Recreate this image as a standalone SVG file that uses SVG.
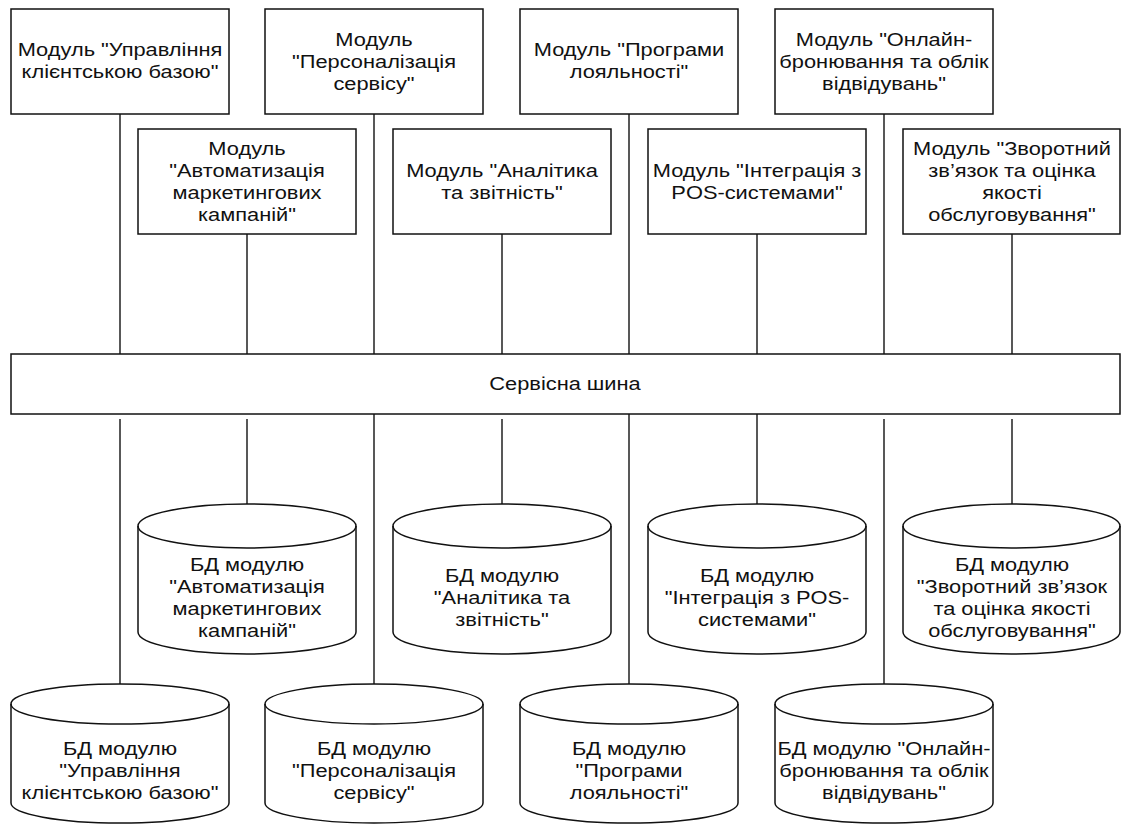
<svg xmlns="http://www.w3.org/2000/svg" width="1122" height="824" viewBox="0 0 1122 824">
<style>
.box{fill:#fff;stroke:#111;stroke-width:1.5}
.cyl{fill:#fff;stroke:#111;stroke-width:1.5}
.arc{fill:none;stroke:#111;stroke-width:1.5}
.ln{stroke:#222;stroke-width:1.5;fill:none}
text{font-family:"Liberation Sans",Arial,sans-serif;font-size:18.5px;fill:#111;text-anchor:middle}
</style>
<rect width="1122" height="824" fill="#fff"/>
<g id="connectors">
<path class="ln" d="M120,114V354M374,114V354M629,114V354M884,114V354M247,234V354M502,234V354M757,234V354M1012,234V354"/>
<path class="ln" d="M120,419V684M374,414V684M629,414V684M884,419V684M247,419V504M502,419V504M757,414V504M1012,419V504"/>
</g>
<g id="m1"><rect class="box" x="11" y="9" width="218" height="105"/><text transform="translate(120 56) scale(1.18 1)">Модуль "Управління</text><text transform="translate(120 78) scale(1.18 1)">клієнтською базою"</text></g>
<g id="m2"><rect class="box" x="265" y="9" width="218" height="105"/><text transform="translate(374 46) scale(1.18 1)">Модуль</text><text transform="translate(374 68) scale(1.18 1)">"Персоналізація</text><text transform="translate(374 90) scale(1.18 1)">сервісу"</text></g>
<g id="m3"><rect class="box" x="520" y="9" width="218" height="105"/><text transform="translate(629 56) scale(1.18 1)">Модуль "Програми</text><text transform="translate(629 78) scale(1.18 1)">лояльності"</text></g>
<g id="m4"><rect class="box" x="775" y="9" width="218" height="105"/><text transform="translate(884 46) scale(1.18 1)">Модуль "Онлайн-</text><text transform="translate(884 68) scale(1.18 1)">бронювання та облік</text><text transform="translate(884 90) scale(1.18 1)">відвідувань"</text></g>
<g id="m5"><rect class="box" x="138" y="129" width="218" height="105"/><text transform="translate(247 155) scale(1.18 1)">Модуль</text><text transform="translate(247 177) scale(1.18 1)">"Автоматизація</text><text transform="translate(247 199) scale(1.18 1)">маркетингових</text><text transform="translate(247 221) scale(1.18 1)">кампаній"</text></g>
<g id="m6"><rect class="box" x="393" y="129" width="218" height="105"/><text transform="translate(502 177) scale(1.18 1)">Модуль "Аналітика</text><text transform="translate(502 199) scale(1.18 1)">та звітність"</text></g>
<g id="m7"><rect class="box" x="648" y="129" width="218" height="105"/><text transform="translate(757 177) scale(1.18 1)">Модуль "Інтеграція з</text><text transform="translate(757 199) scale(1.18 1)">POS-системами"</text></g>
<g id="m8"><rect class="box" x="903" y="129" width="217" height="105"/><text transform="translate(1012 155) scale(1.18 1)">Модуль "Зворотний</text><text transform="translate(1012 177) scale(1.18 1)">зв’язок та оцінка</text><text transform="translate(1012 199) scale(1.18 1)">якості</text><text transform="translate(1012 221) scale(1.18 1)">обслуговування"</text></g>
<g id="bus"><rect class="box" x="11" y="354" width="1109" height="60"/><text transform="translate(565 390) scale(1.18 1)">Сервісна шина</text></g>
<g id="db5"><path class="cyl" d="M138,526A109 22 0 0 1 356,526L356,632A109 22 0 0 1 138,632Z"/><path class="arc" d="M138,526A109 22 0 0 0 356,526"/><text transform="translate(247 571) scale(1.18 1)">БД модулю</text><text transform="translate(247 593) scale(1.18 1)">"Автоматизація</text><text transform="translate(247 615) scale(1.18 1)">маркетингових</text><text transform="translate(247 637) scale(1.18 1)">кампаній"</text></g>
<g id="db6"><path class="cyl" d="M393,526A109 22 0 0 1 611,526L611,632A109 22 0 0 1 393,632Z"/><path class="arc" d="M393,526A109 22 0 0 0 611,526"/><text transform="translate(502 582) scale(1.18 1)">БД модулю</text><text transform="translate(502 604) scale(1.18 1)">"Аналітика та</text><text transform="translate(502 626) scale(1.18 1)">звітність"</text></g>
<g id="db7"><path class="cyl" d="M648,526A109 22 0 0 1 866,526L866,632A109 22 0 0 1 648,632Z"/><path class="arc" d="M648,526A109 22 0 0 0 866,526"/><text transform="translate(757 582) scale(1.18 1)">БД модулю</text><text transform="translate(757 604) scale(1.18 1)">"Інтеграція з POS-</text><text transform="translate(757 626) scale(1.18 1)">системами"</text></g>
<g id="db8"><path class="cyl" d="M903,526A108.5 22 0 0 1 1120,526L1120,632A108.5 22 0 0 1 903,632Z"/><path class="arc" d="M903,526A108.5 22 0 0 0 1120,526"/><text transform="translate(1012 571) scale(1.18 1)">БД модулю</text><text transform="translate(1012 593) scale(1.18 1)">"Зворотний зв’язок</text><text transform="translate(1012 615) scale(1.18 1)">та оцінка якості</text><text transform="translate(1012 637) scale(1.18 1)">обслуговування"</text></g>
<g id="db1"><path class="cyl" d="M11,704A109 20 0 0 1 229,704L229,803A109 20 0 0 1 11,803Z"/><path class="arc" d="M11,704A109 20 0 0 0 229,704"/><text transform="translate(120 755) scale(1.18 1)">БД модулю</text><text transform="translate(120 777) scale(1.18 1)">"Управління</text><text transform="translate(120 799) scale(1.18 1)">клієнтською базою"</text></g>
<g id="db2"><path class="cyl" d="M265,704A109 20 0 0 1 483,704L483,803A109 20 0 0 1 265,803Z"/><path class="arc" d="M265,704A109 20 0 0 0 483,704"/><text transform="translate(374 755) scale(1.18 1)">БД модулю</text><text transform="translate(374 777) scale(1.18 1)">"Персоналізація</text><text transform="translate(374 799) scale(1.18 1)">сервісу"</text></g>
<g id="db3"><path class="cyl" d="M520,704A109 20 0 0 1 738,704L738,803A109 20 0 0 1 520,803Z"/><path class="arc" d="M520,704A109 20 0 0 0 738,704"/><text transform="translate(629 755) scale(1.18 1)">БД модулю</text><text transform="translate(629 777) scale(1.18 1)">"Програми</text><text transform="translate(629 799) scale(1.18 1)">лояльності"</text></g>
<g id="db4"><path class="cyl" d="M775,704A109 20 0 0 1 993,704L993,803A109 20 0 0 1 775,803Z"/><path class="arc" d="M775,704A109 20 0 0 0 993,704"/><text transform="translate(884 755) scale(1.18 1)">БД модулю "Онлайн-</text><text transform="translate(884 777) scale(1.18 1)">бронювання та облік</text><text transform="translate(884 799) scale(1.18 1)">відвідувань"</text></g>
</svg>
